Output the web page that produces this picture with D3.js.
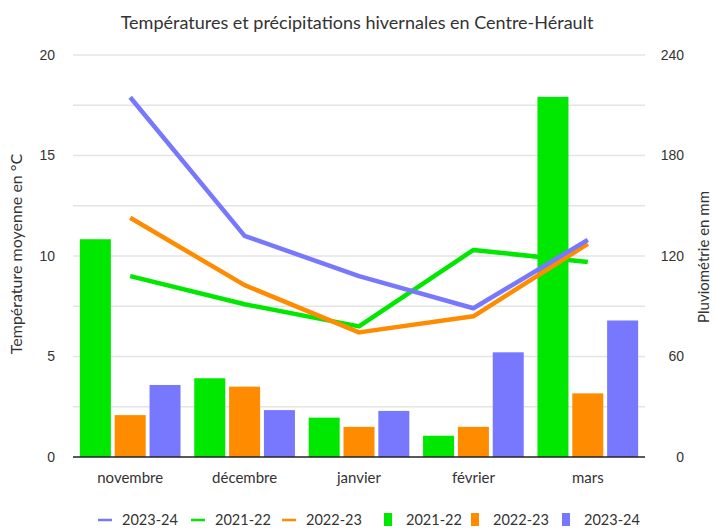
<!DOCTYPE html>
<html>
<head>
<meta charset="utf-8">
<script src="https://cdn.jsdelivr.net/npm/d3@7"></script>
<style>
  body { margin: 0; background: #fff; }
  text { font-family: Lato, "Open Sans", sans-serif; fill: #333; }
  .tick text { font-family: "Liberation Sans", Arial, sans-serif; font-size: 14px; fill: #333; }
</style>
</head>
<body>
<svg id="chart" width="714" height="528"></svg>
<script>
// data
const months = ["novembre", "décembre", "janvier", "février", "mars"]
const seasons = ["2021-22", "2022-23", "2023-24"]
const rain2122 = [130, 47, 23.5, 12.7, 215]
const rain2223 = [25, 42, 18, 18, 38]
const rain2324 = [43, 28, 27.5, 62.5, 81.5]
const temp2324 = [17.9, 11.0, 9.0, 7.4, 10.8]
const temp2122 = [9.0, 7.6, 6.5, 10.3, 9.7]
const temp2223 = [11.9, 8.55, 6.2, 7.0, 10.6]
const tempTicks = [0, 5, 10, 15, 20]
const rainTicks = [0, 60, 120, 180, 240]

const colors = {"2021-22": "#00e800", "2022-23": "#ff8c00", "2023-24": "#7878ff"}
const rainBySeason = {"2021-22": rain2122, "2022-23": rain2223, "2023-24": rain2324}
const lineSeries = [
    {name: "2021-22", values: temp2122},
    {name: "2022-23", values: temp2223},
    {name: "2023-24", values: temp2324}
]

const margin = {top: 55, right: 69, bottom: 71, left: 73}
const W = 714, H = 528
let svg = d3.select("#chart")

let x = d3.scaleBand().domain(months).range([margin.left, W - margin.right]).paddingInner(0.12).paddingOuter(0.06)
let xs = d3.scaleBand().domain(seasons).range([0, x.bandwidth()]).paddingInner(0.11)
let yT = d3.scaleLinear().domain([0, 20]).range([H - margin.bottom, margin.top])
let yR = d3.scaleLinear().domain([0, 240]).range([H - margin.bottom, margin.top])

// grid every 2.5 degrees
let grid = d3.range(0, 20.1, 2.5).filter(d => d > 0)
svg.append("g").selectAll("line").data(grid).enter().append("line")
    .attr("x1", margin.left).attr("x2", W - margin.right)
    .attr("y1", d => yT(d)).attr("y2", d => yT(d))
    .style("stroke", "#e4e4e4").style("stroke-width", 1.5)

// bars
let groups = svg.append("g").selectAll("g").data(months).enter().append("g")
    .attr("transform", d => `translate(${x(d)},0)`)
groups.selectAll("rect")
    .data((m, i) => seasons.map(s => ({s: s, v: rainBySeason[s][i]})))
    .enter().append("rect")
    .attr("x", d => xs(d.s))
    .attr("width", xs.bandwidth())
    .attr("y", d => yR(d.v))
    .attr("height", d => yR(0) - yR(d.v))
    .style("fill", d => colors[d.s])

// baseline
svg.append("line")
    .attr("x1", margin.left).attr("x2", W - margin.right)
    .attr("y1", yT(0)).attr("y2", yT(0))
    .style("stroke", "#222").style("stroke-width", 1.5)

// temperature lines
let line = d3.line()
    .x((d, i) => x(months[i]) + x.bandwidth() / 2)
    .y(d => yT(d))
svg.append("g").selectAll("path").data(lineSeries).enter().append("path")
    .attr("d", d => line(d.values))
    .style("fill", "none")
    .style("stroke", d => colors[d.name])
    .style("stroke-width", 4.5)
    .style("stroke-linejoin", "round")

// axes
let leftAxis = d3.axisLeft(yT).tickValues(tempTicks).tickSize(0).tickPadding(0)
svg.append("g").attr("transform", `translate(${55},0)`).call(leftAxis)
    .call(g => g.select(".domain").remove())
let rightAxis = d3.axisRight(yR).tickValues(rainTicks).tickSize(0).tickPadding(0)
let ra = svg.append("g").attr("transform", `translate(${684},0)`).call(rightAxis)
ra.select(".domain").remove()
ra.selectAll(".tick text").attr("text-anchor", "end")

let bottomAxis = d3.axisBottom(x).tickSize(0).tickPadding(0)
let ba = svg.append("g").attr("transform", `translate(0,${yT(0)})`).call(bottomAxis)
ba.select(".domain").remove()
ba.selectAll(".tick text").attr("dy", 26)
    .style("font-family", "Lato, sans-serif").style("font-size", "15px")

// titles
svg.append("text").attr("x", 357).attr("y", 29).attr("text-anchor", "middle")
    .style("font-size", "18px").text("Températures et précipitations hivernales en Centre-Hérault")
svg.append("text").attr("transform", `translate(22,254) rotate(-90)`)
    .attr("text-anchor", "middle").style("font-size", "16px").text("Température moyenne en °C")
svg.append("text").attr("transform", `translate(709,257) rotate(-90)`)
    .attr("text-anchor", "middle").style("font-size", "15px").text("Pluviométrie en mm")

// legend
const legendLines = [["2023-24", 98], ["2021-22", 191], ["2022-23", 282]]
const legendBars = [["2021-22", 384], ["2022-23", 471], ["2023-24", 562]]
let lg = svg.append("g")
legendLines.forEach(([name, lx]) => {
    lg.append("line").attr("x1", lx).attr("x2", lx + 14).attr("y1", 520).attr("y2", 520)
        .style("stroke", colors[name]).style("stroke-width", 2.5)
    lg.append("text").attr("x", lx + 24).attr("y", 525).style("font-size", "14.5px").text(name)
})
legendBars.forEach(([name, lx]) => {
    lg.append("rect").attr("x", lx).attr("y", 513).attr("width", 8).attr("height", 13)
        .style("fill", colors[name])
    lg.append("text").attr("x", lx + 22).attr("y", 525).style("font-size", "14.5px").text(name)
})
</script>
</body>
</html>
